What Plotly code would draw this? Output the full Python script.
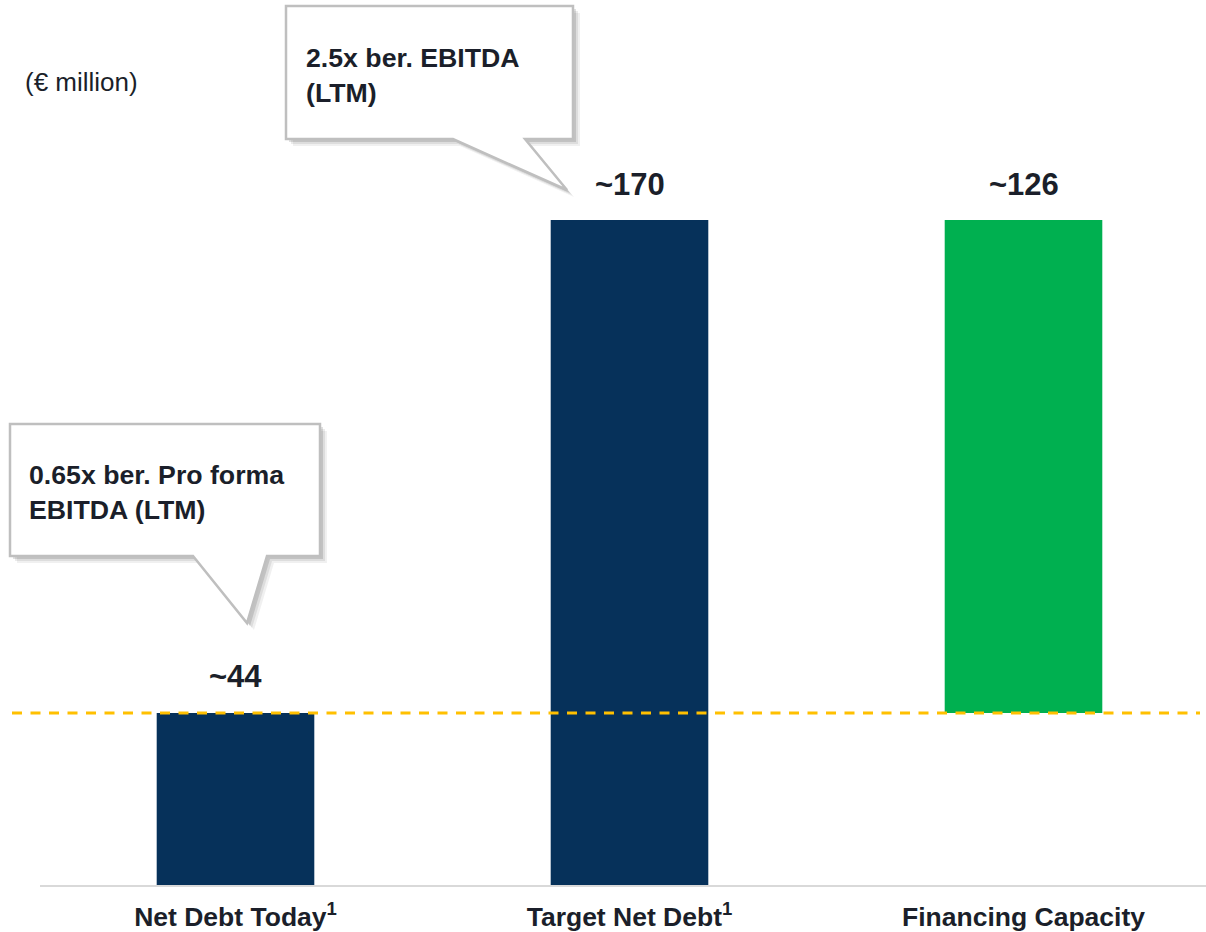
import plotly.graph_objects as go

# ---- data ----
categories = ["Net Debt Today<sup>1</sup>", "Target Net Debt<sup>1</sup>", "Financing Capacity"]
values = [44, 170, 126]
bases = [0, 0, 44]
value_labels = ["~44", "~170", "~126"]
bar_colors = ["#06315A", "#06315A", "#00B050"]
reference_level = 44
callout_texts = ["0.65x ber. Pro forma<br>EBITDA (LTM)", "2.5x ber. EBITDA<br>(LTM)"]
unit_label = "(€ million)"

W, H = 1206, 932
FONT = "Liberation Sans, Arial, sans-serif"
TXT = "#1B1F2A"

def px(x):
    return x / W

def py(y):
    return 1 - y / H

fig = go.Figure()
fig.add_trace(go.Bar(
    x=categories, y=values, base=bases,
    marker=dict(color=bar_colors, line=dict(width=0)),
    width=0.4, hoverinfo="skip", showlegend=False,
))

# value labels
for cat, v, b, lab in zip(categories, values, bases, value_labels):
    fig.add_annotation(x=cat, y=v + b, xref="x", yref="y", text=f"<b>{lab}</b>",
                       showarrow=False, yanchor="middle", yshift=36,
                       font=dict(family=FONT, size=31, color=TXT))

shapes = []
# dashed reference line
shapes.append(dict(type="line", xref="paper", yref="y", x0=px(12), x1=px(1200),
                   y0=reference_level, y1=reference_level,
                   line=dict(color="#FFC000", width=3, dash="10px,8.5px"), layer="above"))

def callout_path(l, t, r, b, tl, tr, tipx, tipy, dx=0, dy=0):
    pts = [(l, t), (r, t), (r, b), (tr, b), (tipx, tipy), (tl, b), (l, b)]
    s = ""
    for i, (x, y) in enumerate(pts):
        s += ("M" if i == 0 else "L") + f"{px(x + dx):.5f},{py(y + dy):.5f} "
    return s + "Z"

callouts = [
    (10, 424, 320, 556, 193, 267, 247, 623),
    (286, 6, 573, 139, 453, 525, 567, 190),
]
for c in callouts:
    for d, op in [(7, 0.06), (5, 0.08), (3, 0.12)]:
        shapes.append(dict(type="path", xref="paper", yref="paper",
                           path=callout_path(*c, dx=d, dy=d),
                           fillcolor=f"rgba(0,0,0,{op})", line=dict(width=0), layer="above"))
    shapes.append(dict(type="path", xref="paper", yref="paper", path=callout_path(*c),
                       fillcolor="white", line=dict(color="#BFBFBF", width=2.5), layer="above"))

fig.update_layout(shapes=shapes)

# callout texts
fig.add_annotation(x=px(27), y=py(492), xref="paper", yref="paper", text=f"<b>{callout_texts[0]}</b>",
                   showarrow=False, xanchor="left", yanchor="middle", align="left",
                   font=dict(family=FONT, size=26.7, color=TXT))
fig.add_annotation(x=px(304), y=py(76), xref="paper", yref="paper", text=f"<b>{callout_texts[1]}</b>",
                   showarrow=False, xanchor="left", yanchor="middle", align="left",
                   font=dict(family=FONT, size=26.7, color=TXT))

fig.add_annotation(x=px(23), y=py(82), xref="paper", yref="paper", text=unit_label,
                   showarrow=False, xanchor="left", yanchor="middle",
                   font=dict(family=FONT, size=26, color=TXT))

ymax = 170 * 885 / 665
fig.update_layout(
    width=W, height=H, margin=dict(l=0, r=0, t=0, b=0),
    paper_bgcolor="white", plot_bgcolor="white",
    bargap=0.6,
    xaxis=dict(domain=[40 / W, 1], range=[-0.4962, 2.4632], type="category",
               showgrid=False, zeroline=False, showline=True, linecolor="#D9D9D9", linewidth=2,
               ticks="", tickfont=dict(family=FONT, size=26.5, color=TXT),
               tickvals=categories, ticktext=[f"<b>{c}</b>" for c in categories],
               automargin=False, ticklabelstandoff=7),
    yaxis=dict(domain=[47 / H, 1], range=[0, ymax], visible=False, automargin=False),
)

fig.write_html("out.html")
